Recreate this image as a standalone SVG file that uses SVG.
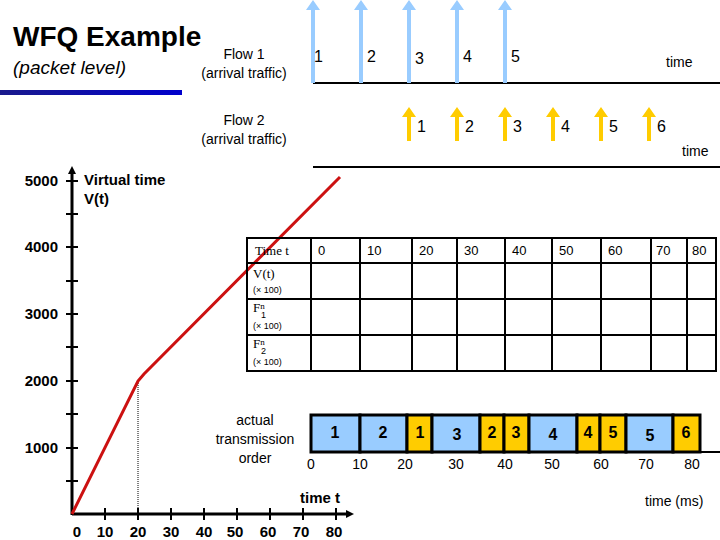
<svg xmlns="http://www.w3.org/2000/svg" width="720" height="540" viewBox="0 0 720 540">
<defs>
<linearGradient id="bar" x1="0" x2="1"><stop offset="0" stop-color="#1a1a8c"/><stop offset="1" stop-color="#0000cc"/></linearGradient>
<marker id="ah" markerWidth="8" markerHeight="8" refX="4" refY="4" orient="auto" markerUnits="userSpaceOnUse"><path d="M0,0 L8,4 L0,8 Z" fill="#000"/></marker>
</defs>
<style>
text{font-family:"Liberation Sans",Arial,sans-serif;fill:#000}
.s{font-size:14px}
.n{font-size:16px}
.b{font-size:16px;font-weight:bold}
.ab{font-size:15px;font-weight:bold}
.ser{font-family:"Liberation Serif","Times New Roman",serif;font-size:13px}
.tiny{font-family:"Liberation Sans",sans-serif;font-size:9px}
.ax{stroke:#000;stroke-width:3;fill:none}
.tk{stroke:#000;stroke-width:2}
.blue{fill:#99ccff}
.yel{fill:#ffcc00}
.box{stroke:#000;stroke-width:3}
.grid{stroke:#000;stroke-width:2;fill:none}
</style>
<rect width="720" height="540" fill="#fff"/>
<g id="title">
<text x="13" y="46" font-size="28" font-weight="bold">WFQ Example</text>
<text x="13" y="74" font-size="19" font-style="italic">(packet level)</text>
<rect x="0" y="90" width="182" height="5" fill="url(#bar)"/>
</g>
<g id="flow1">
<text class="s" x="244" y="59" text-anchor="middle">Flow 1</text>
<text class="s" x="244" y="78" text-anchor="middle">(arrival traffic)</text>
<line x1="313" y1="83" x2="720" y2="83" stroke="#000" stroke-width="2"/>
<g class="blue">
<path d="M311,83 V10 H306 L313,0 L320,10 H315 V83 Z"/>
<path d="M359,83 V10 H354 L361,0 L368,10 H363 V83 Z"/>
<path d="M407,83 V10 H402 L409,0 L416,10 H411 V83 Z"/>
<path d="M455,83 V10 H450 L457,0 L464,10 H459 V83 Z"/>
<path d="M503,83 V10 H498 L505,0 L512,10 H507 V83 Z"/>
</g>
<text class="n" x="314" y="62">1</text><text class="n" x="367" y="62">2</text><text class="n" x="415" y="64">3</text><text class="n" x="463" y="62">4</text><text class="n" x="511" y="62">5</text>
<text class="s" x="666" y="67">time</text>
</g>
<g id="flow2">
<text class="s" x="244" y="125" text-anchor="middle">Flow 2</text>
<text class="s" x="244" y="144" text-anchor="middle">(arrival traffic)</text>
<line x1="313" y1="167" x2="720" y2="167" stroke="#000" stroke-width="2"/>
<g class="yel">
<path d="M407,141 V117 H402 L409,107 L416,117 H411 V141 Z"/>
<path d="M455,141 V117 H450 L457,107 L464,117 H459 V141 Z"/>
<path d="M503,141 V117 H498 L505,107 L512,117 H507 V141 Z"/>
<path d="M551,141 V117 H546 L553,107 L560,117 H555 V141 Z"/>
<path d="M599,141 V117 H594 L601,107 L608,117 H603 V141 Z"/>
<path d="M647,141 V117 H642 L649,107 L656,117 H651 V141 Z"/>
</g>
<text class="n" x="417" y="132">1</text><text class="n" x="465" y="132">2</text><text class="n" x="513" y="132">3</text><text class="n" x="561" y="132">4</text><text class="n" x="609" y="132">5</text><text class="n" x="657" y="132">6</text>
<text class="s" x="682" y="156">time</text>
</g>
<g id="vt-chart">
<line class="ax" x1="72" y1="515" x2="72" y2="170" marker-end="url(#ah)"/>
<line class="ax" x1="72" y1="514" x2="350" y2="514" marker-end="url(#ah)"/>
<g class="tk">
<line x1="66" y1="181" x2="78" y2="181"/><line x1="66" y1="214" x2="78" y2="214"/>
<line x1="66" y1="247" x2="78" y2="247"/><line x1="66" y1="281" x2="78" y2="281"/>
<line x1="66" y1="314" x2="78" y2="314"/><line x1="66" y1="347" x2="78" y2="347"/>
<line x1="66" y1="381" x2="78" y2="381"/><line x1="66" y1="414" x2="78" y2="414"/>
<line x1="66" y1="448" x2="78" y2="448"/><line x1="66" y1="481" x2="78" y2="481"/>
<line x1="105" y1="508" x2="105" y2="520"/><line x1="138" y1="508" x2="138" y2="520"/>
<line x1="171" y1="508" x2="171" y2="520"/><line x1="204" y1="508" x2="204" y2="520"/>
<line x1="237" y1="508" x2="237" y2="520"/><line x1="270" y1="508" x2="270" y2="520"/>
<line x1="303" y1="508" x2="303" y2="520"/><line x1="336" y1="508" x2="336" y2="520"/>
</g>
<g class="ab" text-anchor="end">
<text x="58" y="186">5000</text><text x="58" y="252">4000</text><text x="58" y="319">3000</text><text x="58" y="386">2000</text><text x="58" y="453">1000</text>
</g>
<g class="ab" text-anchor="middle">
<text x="77" y="537">0</text><text x="105" y="537">10</text><text x="138" y="537">20</text><text x="171" y="537">30</text><text x="204" y="537">40</text><text x="235" y="537">50</text><text x="268" y="537">60</text><text x="301" y="537">70</text><text x="334" y="537">80</text>
</g>
<text class="ab" x="84" y="185">Virtual time</text>
<text class="ab" x="84" y="204">V(t)</text>
<text class="ab" x="300" y="503">time t</text>
<line x1="138" y1="381" x2="138" y2="514" stroke="#000" stroke-width="1" stroke-dasharray="1,1"/>
<polyline points="72,514 138,381 144,374 340,177" fill="none" stroke="#cc1111" stroke-width="3"/>
</g>
<g id="table">
<rect class="grid" x="247" y="238" width="469" height="133" fill="#fff"/>
<g class="grid">
<line x1="311" y1="238" x2="311" y2="371"/><line x1="360" y1="238" x2="360" y2="371"/><line x1="412" y1="238" x2="412" y2="371"/><line x1="457" y1="238" x2="457" y2="371"/><line x1="505" y1="238" x2="505" y2="371"/><line x1="552" y1="238" x2="552" y2="371"/><line x1="601" y1="238" x2="601" y2="371"/><line x1="651" y1="238" x2="651" y2="371"/><line x1="687" y1="238" x2="687" y2="371"/>
<line x1="247" y1="263" x2="716" y2="263"/><line x1="247" y1="299" x2="716" y2="299"/><line x1="247" y1="335" x2="716" y2="335"/>
</g>
<text class="ser" x="255" y="255">Time t</text>
<g font-size="13" style="font-family:'Liberation Sans',sans-serif">
<text x="318" y="255">0</text><text x="367" y="255">10</text><text x="419" y="255">20</text><text x="464" y="255">30</text><text x="512" y="255">40</text><text x="559" y="255">50</text><text x="608" y="255">60</text><text x="656" y="255">70</text><text x="692" y="255">80</text>
</g>
<text class="ser" x="253" y="278">V(t)</text><text class="tiny" x="253" y="293">(× 100)</text>
<text class="ser" x="253" y="312">F<tspan font-size="9" dy="-3">n</tspan></text><text class="tiny" x="261" y="318">1</text><text class="tiny" x="253" y="329">(× 100)</text>
<text class="ser" x="253" y="348">F<tspan font-size="9" dy="-3">n</tspan></text><text class="tiny" x="261" y="354">2</text><text class="tiny" x="253" y="365">(× 100)</text>
</g>
<g id="transmission">
<text class="s" x="255" y="425" text-anchor="middle">actual</text>
<text class="s" x="255" y="444" text-anchor="middle">transmission</text>
<text class="s" x="255" y="463" text-anchor="middle">order</text>
<line x1="311" y1="452" x2="720" y2="452" stroke="#000" stroke-width="2"/>
<rect class="box blue" x="311" y="415" width="49" height="37"/>
<rect class="box blue" x="360" y="415" width="47" height="37"/>
<rect class="box yel" x="407" y="415" width="25" height="37"/>
<rect class="box blue" x="432" y="415" width="48" height="37"/>
<rect class="box yel" x="480" y="415" width="24" height="37"/>
<rect class="box yel" x="504" y="415" width="25" height="37"/>
<rect class="box blue" x="529" y="415" width="48" height="37"/>
<rect class="box yel" x="577" y="415" width="23" height="37"/>
<rect class="box yel" x="600" y="415" width="26" height="37"/>
<rect class="box blue" x="626" y="415" width="47" height="37"/>
<rect class="box yel" x="673" y="415" width="27" height="37"/>
<g class="b" text-anchor="middle">
<text x="335" y="438">1</text><text x="383" y="438">2</text><text x="420" y="438">1</text><text x="457" y="440">3</text><text x="492" y="438">2</text><text x="516" y="438">3</text><text x="553" y="440">4</text><text x="588" y="438">4</text><text x="613" y="438">5</text><text x="650" y="441">5</text><text x="686" y="438">6</text>
</g>
<g class="s" text-anchor="middle">
<text x="311" y="469">0</text><text x="360" y="469">10</text><text x="405" y="469">20</text><text x="456" y="469">30</text><text x="505" y="469">40</text><text x="552" y="469">50</text><text x="601" y="469">60</text><text x="646" y="469">70</text><text x="692" y="469">80</text>
</g>
<text class="s" x="645" y="506">time (ms)</text>
</g>
</svg>
